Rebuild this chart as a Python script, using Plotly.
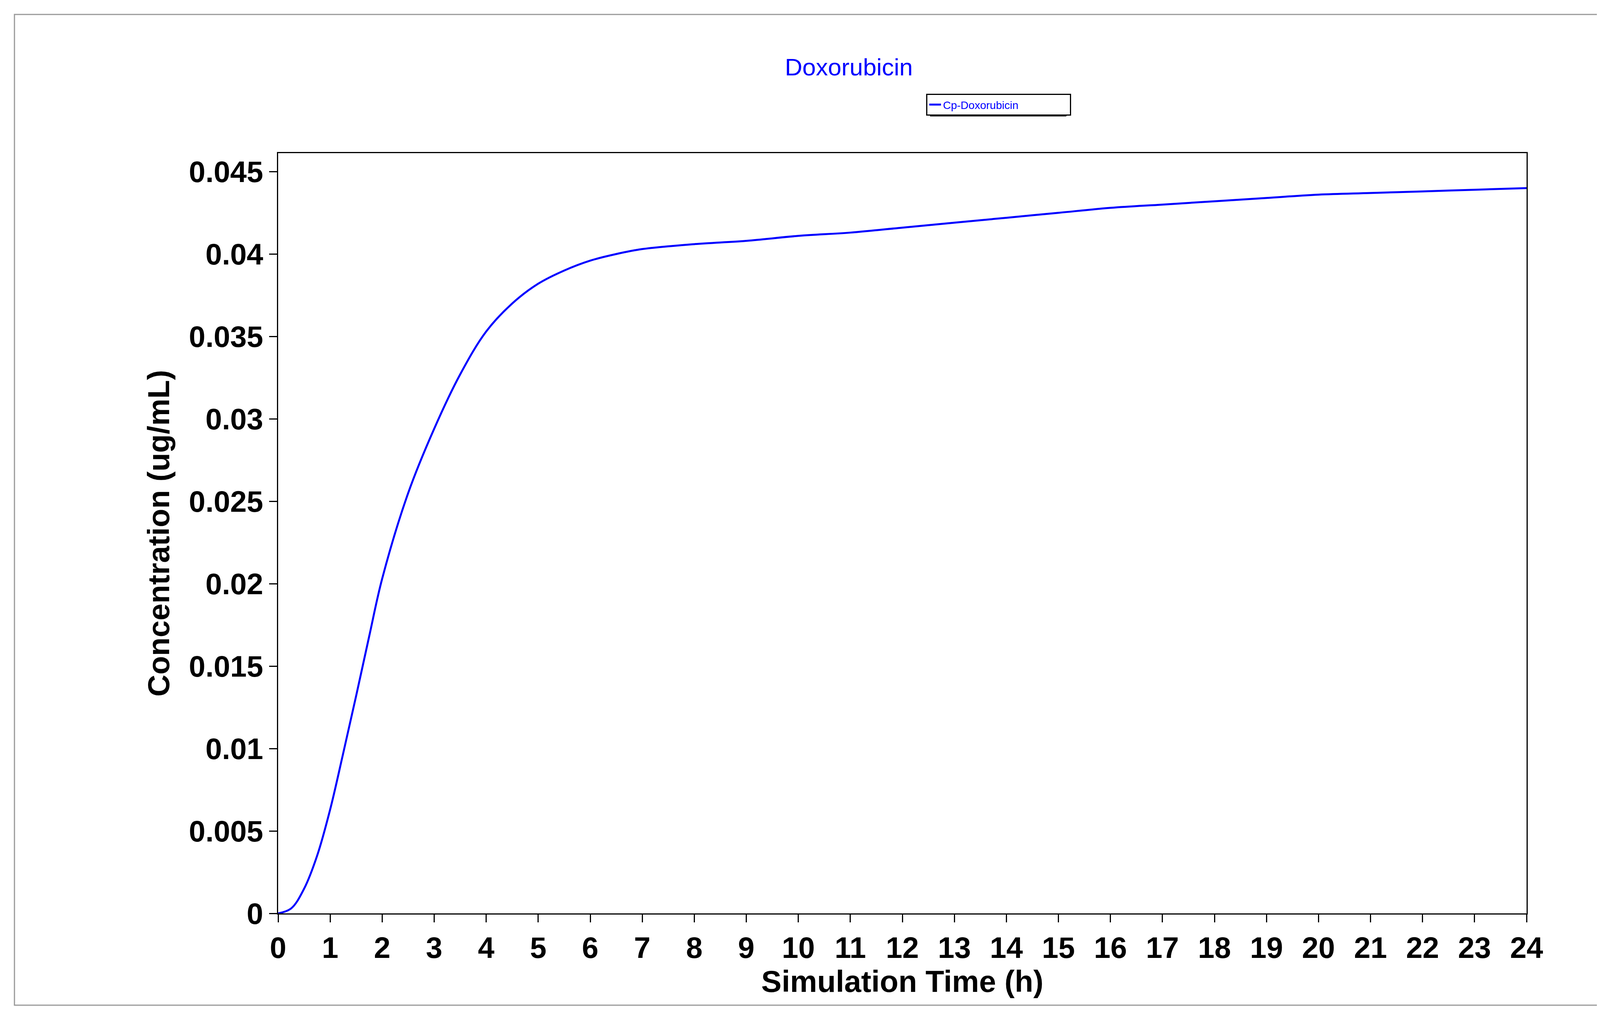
import plotly.graph_objects as go

time_h = [0, 0.25, 0.5, 0.75, 1, 1.25, 1.5, 1.75, 2, 2.5, 3, 3.5, 4, 4.5, 5, 5.5, 6, 6.5, 7, 8, 9, 10, 11, 12, 13, 14, 15, 16, 17, 18, 19, 20, 21, 22, 23, 24]
conc = [0, 0.0003, 0.0015, 0.0035, 0.0063, 0.0097, 0.0132, 0.0168, 0.0203, 0.0255, 0.0294, 0.0327, 0.0353, 0.0370, 0.0382, 0.0390, 0.0396, 0.0400, 0.0403, 0.0406, 0.0408, 0.0411, 0.0413, 0.0416, 0.0419, 0.0422, 0.0425, 0.0428, 0.0430, 0.0432, 0.0434, 0.0436, 0.0437, 0.0438, 0.0439, 0.0440]
x_ticks = list(range(0, 25))
y_ticks = [0, 0.005, 0.01, 0.015, 0.02, 0.025, 0.03, 0.035, 0.04, 0.045]
y_labels = ["0", "0.005", "0.01", "0.015", "0.02", "0.025", "0.03", "0.035", "0.04", "0.045"]

W, H = 4135, 2593
L, R, T, B = 704, 235, 384, 263
pw, ph = W - L - R, H - T - B
def px(x): return (x - L) / pw
def py(y): return 1 - (y - T) / ph

fig = go.Figure(go.Scatter(x=time_h, y=conc, mode="lines", name="Cp-Doxorubicin",
                           line=dict(color="#0000ff", width=5, shape="spline")))
axis = dict(showgrid=False, zeroline=False, showline=True, linecolor="black", linewidth=3,
            mirror=True, ticks="outside", ticklen=20, tickwidth=3, tickcolor="black",
            tickfont=dict(family="Arial", size=76, color="black", weight="bold"))
fig.update_layout(
    width=W, height=H, paper_bgcolor="white", plot_bgcolor="white",
    margin=dict(l=L, r=R, t=T, b=B),
    title=dict(text="Doxorubicin", x=2165 / W, xanchor="center", y=1 - 163 / H, yanchor="middle",
               font=dict(family="Arial", size=62, color="#0000ff")),
    xaxis=dict(axis, range=[0, 24], tickvals=x_ticks,
               title=dict(text="Simulation Time (h)", standoff=10,
                          font=dict(family="Arial", size=78, color="black", weight="bold"))),
    yaxis=dict(axis, range=[0, 0.04612], tickvals=y_ticks, ticktext=y_labels,
               title=dict(text="Concentration (ug/mL)", standoff=25,
                          font=dict(family="Arial", size=78, color="black", weight="bold"))),
    showlegend=True,
    legend=dict(x=px(2363), y=py(232), xanchor="left", yanchor="top", bordercolor="black",
                borderwidth=3, bgcolor="white", font=dict(family="Arial", size=28, color="#0000ff"),
                orientation="h", entrywidth=320, entrywidthmode="pixels", itemwidth=30),
    shapes=[
        dict(type="rect", xref="paper", yref="paper", x0=px(29), x1=px(4103), y0=py(29), y1=py(2565),
             line=dict(color="#999999", width=3), layer="below"),
        dict(type="rect", xref="paper", yref="paper", x0=px(2373), x1=px(2722), y0=py(242), y1=py(290),
             line=dict(width=0), fillcolor="black", layer="below"),
    ],
)
fig.write_html("out.html")
